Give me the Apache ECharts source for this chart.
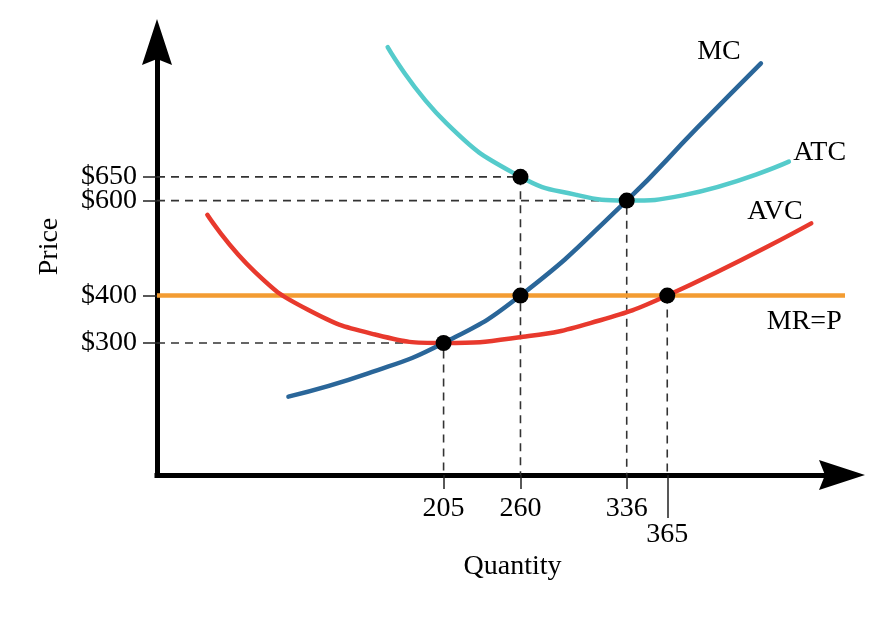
<!DOCTYPE html>
<html>
<head>
<meta charset="utf-8">
<script src="https://cdn.jsdelivr.net/npm/echarts@6/dist/echarts.min.js"></script>
<style>
html,body{margin:0;padding:0;background:#fff;}
#chart{width:878px;height:622px;}
</style>
</head>
<body>
<div id="chart"></div>
<script>
// ---- data ----
const quantityTicks = [205, 260, 336];
const quantityTicksLow = [365];
const priceTicks = [300, 400, 600];
const priceTicksUpper = [650];
const mcCurve = [[94,187],[151,236],[205,300],[260,400],[336,600],[386,752],[432,889]];
const atcCurve = [[165,923],[207,763],[260,650],[300,612],[336,600],[376,611],[452,682]];
const avcCurve = [[36,570],[70,450],[108,370],[156,318],[205,300],[262,313],[310,342],[365,400],[468,552]];
const mrPrice = 400;
const mrRange = [0, 501];
const keyPoints = [[205,300],[260,400],[260,650],[336,600],[365,400]];
// guide lines: [quantity, price, drawHorizontal]
const guides = [[205,300,true],[260,650,true],[336,600,true],[365,400,false]];
const curveNames = ['MC','ATC','AVC','MR=P'];
const nameAnchors = [[402,913],[474,702],[442,576],[463,344]];

const X_MIN = 0, X_MAX = 490, Y_MIN = 22, Y_MAX = 934;
const FONT = 'Liberation Serif';
const TXT = '#000';
const arrow = 'path://M15,0 L30,46 L15,40 L0,46 Z';

const guideSeries = guides.map(g => {
  const pts = [];
  if (g[2]) pts.push([X_MIN, g[1]]);
  pts.push([g[0], g[1]]);
  pts.push([g[0], Y_MIN]);
  return {
    type: 'line', data: pts, symbol: 'none', z: 1, silent: true,
    lineStyle: {color: '#333', width: 1.6, type: [8, 6]}
  };
});

const curve = (data, color) => ({
  type: 'line', data: data, symbol: 'none', smooth: 0.5, z: 3,
  lineStyle: {color: color, width: 4.5, cap: 'round'}
});

const labelStyle = {fontFamily: FONT, fontSize: 28, color: TXT};
const tickStyle = {color: '#222', width: 1.5};

const option = {
  backgroundColor: '#fff',
  animation: false,
  grid: {left: 157, right: 36, top: 42, bottom: 147, containLabel: false},
  xAxis: [{
    type: 'value', min: X_MIN, max: X_MAX,
    name: 'Quantity', nameLocation: 'middle', nameGap: 78,
    nameTextStyle: Object.assign({padding: [0,0,0,26]}, labelStyle),
    axisLine: {show: true, symbol: ['none', arrow], symbolSize: [30, 46],
      lineStyle: {color: '#000', width: 5, cap: 'square'}},
    axisTick: {show: true, customValues: quantityTicks, length: 14, lineStyle: tickStyle},
    axisLabel: Object.assign({show: true, customValues: quantityTicks, margin: 20}, labelStyle),
    splitLine: {show: false}
  }, {
    type: 'value', min: X_MIN, max: X_MAX, position: 'bottom', offset: 0,
    axisLine: {show: false},
    axisTick: {show: true, customValues: quantityTicksLow, length: 43, lineStyle: tickStyle},
    axisLabel: Object.assign({show: true, customValues: quantityTicksLow, margin: 46}, labelStyle),
    splitLine: {show: false}
  }],
  yAxis: [{
    type: 'value', min: Y_MIN, max: Y_MAX,
    name: 'Price', nameLocation: 'middle', nameGap: 93, nameRotate: 90,
    nameTextStyle: Object.assign({padding: [0,0,0,24]}, labelStyle),
    axisLine: {show: true, symbol: ['none', arrow], symbolSize: [30, 46],
      lineStyle: {color: '#000', width: 5, cap: 'square'}},
    axisTick: {show: true, customValues: priceTicks, length: 14, lineStyle: tickStyle},
    axisLabel: Object.assign({show: true, customValues: priceTicks, margin: 20, formatter: v => '$' + v}, labelStyle),
    splitLine: {show: false}
  }, {
    type: 'value', min: Y_MIN, max: Y_MAX, position: 'left', offset: 0,
    axisLine: {show: false},
    axisTick: {show: true, customValues: priceTicksUpper, length: 14, lineStyle: tickStyle},
    axisLabel: Object.assign({show: true, customValues: priceTicksUpper, margin: 20, formatter: v => '$' + v}, labelStyle),
    splitLine: {show: false}
  }],
  series: [
    ...guideSeries,
    {
      type: 'line', data: [[mrRange[0], mrPrice], [mrRange[1], mrPrice]], symbol: 'none', z: 2, clip: false,
      lineStyle: {color: '#f39c32', width: 4.5}
    },
    curve(avcCurve, '#e8392d'),
    curve(atcCurve, '#55cbcb'),
    curve(mcCurve, '#2a6699'),
    {
      type: 'scatter', data: keyPoints, symbol: 'circle', symbolSize: 16, z: 5,
      itemStyle: {color: '#000', opacity: 1}
    },
    {
      type: 'scatter', symbolSize: 1, z: 6, silent: true,
      itemStyle: {color: 'rgba(0,0,0,0)', opacity: 1},
      data: nameAnchors.map((a, i) => ({value: a, name: curveNames[i]})),
      label: Object.assign({show: true, position: 'inside', formatter: p => p.name, opacity: 1}, labelStyle)
    }
  ]
};

const chart = echarts.init(document.getElementById('chart'), null, {renderer: 'canvas'});
chart.setOption(option);
</script>
</body>
</html>
